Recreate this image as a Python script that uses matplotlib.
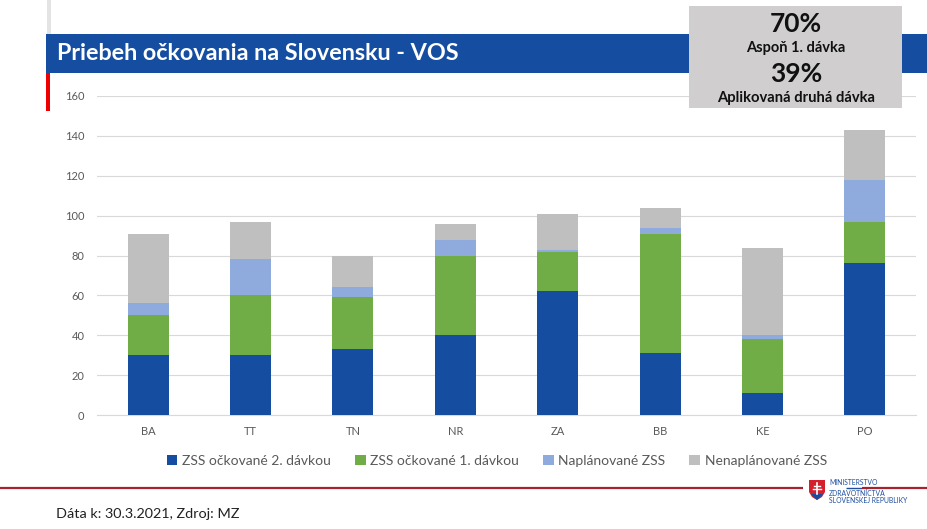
import matplotlib
matplotlib.use("Agg")
import matplotlib.pyplot as plt
from matplotlib.patches import Rectangle, Polygon
import numpy as np

plt.rcParams['font.family'] = ['Lato', 'DejaVu Sans']

categories = ['BA', 'TT', 'TN', 'NR', 'ZA', 'BB', 'KE', 'PO']
dose2 = [30, 30, 33, 40, 62, 31, 11, 76]
dose1 = [20, 30, 26, 40, 20, 60, 27, 21]
planned = [6, 18, 5, 8, 1, 3, 2, 21]
unplanned = [35, 19, 16, 8, 18, 10, 44, 25]
series_names = ['ZSS očkované 2. dávkou', 'ZSS očkované 1. dávkou', 'Naplánované ZSS', 'Nenaplánované ZSS']
series_colors = ['#154EA1', '#70AD47', '#8FAADC', '#BFBFBF']
yticks = [0, 20, 40, 60, 80, 100, 120, 140, 160]
title = 'Priebeh očkovania na Slovensku - VOS'
source = 'Dáta k: 30.3.2021, Zdroj: MZ'

W, H = 928, 529
fig = plt.figure(figsize=(W / 100, H / 100), dpi=100, facecolor='white')

# chart axes, in pixel position
L, R, T, B = 97, 916, 96, 415
ax = fig.add_axes([L / W, 1 - B / H, (R - L) / W, (B - T) / H])
x = np.arange(len(categories))
bottom = np.zeros(len(categories))
for vals, name, col in zip([dose2, dose1, planned, unplanned], series_names, series_colors):
    ax.bar(x, vals, width=0.4, bottom=bottom, color=col, label=name, zorder=3)
    bottom += np.array(vals)
ax.set_xlim(-0.5, 7.5)
ax.set_ylim(0, 160)
ax.set_xticks(x, categories)
ax.set_yticks(yticks)
ax.tick_params(length=0, labelsize=8, labelcolor='#595959', pad=9)
ax.tick_params(axis='x', pad=8)
ax.grid(axis='y', color='#D9D9D9', lw=0.8, zorder=0)
for s in ['top', 'right', 'left']:
    ax.spines[s].set_visible(False)
ax.spines['bottom'].set_color('#D9D9D9')

leg = fig.legend(loc='center', bbox_to_anchor=(497 / W, 1 - 461 / H), ncol=4, frameon=False,
                 fontsize=10, labelcolor='#595959', handlelength=0.75, handleheight=0.75,
                 handletextpad=0.35, columnspacing=1.72)

# slide decorations, in pixel coordinates
ov = fig.add_axes([0, 0, 1, 1], zorder=5)
ov.set_xlim(0, W)
ov.set_ylim(H, 0)
ov.axis('off')
ov.patch.set_alpha(0)
ov.add_patch(Rectangle((46, 34), 882, 39, color='#154EA1', lw=0))
ov.add_patch(Rectangle((47, 0), 4, 34, color='#E3E3E3', lw=0))
ov.add_patch(Rectangle((46, 73), 4.5, 38, color='#EE0000', lw=0))
ov.text(57, 53, title, color='white', fontsize=16.8, fontweight='bold', va='center', ha='left')

ov.add_patch(Rectangle((689, 6), 213, 102, color='#D0CECE', lw=0))
ov.text(796, 24, '70%', fontsize=19, fontweight='bold', color='#111111', ha='center', va='center')
ov.text(796, 48, 'Aspoň 1. dávka', fontsize=10.5, fontweight='bold', color='#111111', ha='center', va='center')
ov.text(796, 74, '39%', fontsize=19, fontweight='bold', color='#111111', ha='center', va='center')
ov.text(796, 98, 'Aplikovaná druhá dávka', fontsize=10.6, fontweight='bold', color='#111111', ha='center', va='center')

ov.plot([0, 803], [488, 488], color='#A6222E', lw=1.6, solid_capstyle='butt')
ov.plot([846, 862], [488, 488], color='#1F4E9E', lw=1.0, solid_capstyle='butt')
ov.plot([862, 928], [488, 488], color='#A6222E', lw=1.6, solid_capstyle='butt')
ov.text(56, 513.5, source, fontsize=10.4, color='#222222', ha='left', va='center')

# ministry logo
ov.add_patch(Polygon([(809, 480), (825, 480), (825, 492), (822, 497), (817, 500), (812, 497), (809, 492)],
                     color='#D3202C', lw=0))
ov.add_patch(Polygon([(811, 494), (823, 494), (820, 497.5), (817, 500), (814, 497.5)], color='#154EA1', lw=0))
ov.plot([817, 817], [483, 494], color='white', lw=1.2)
ov.plot([814, 820], [486, 486], color='white', lw=1.0)
ov.plot([813, 821], [489, 489], color='white', lw=1.0)
ov.text(829, 482.5, 'MINISTERSTVO', fontsize=4.9, color='#1F4E9E', ha='left', va='center')
ov.text(829, 493, 'ZDRAVOTNÍCTVA', fontsize=4.9, color='#1F4E9E', ha='left', va='center')
ov.text(829, 500.5, 'SLOVENSKEJ REPUBLIKY', fontsize=4.9, color='#1F4E9E', ha='left', va='center')

fig.savefig('out.png', dpi=100)
